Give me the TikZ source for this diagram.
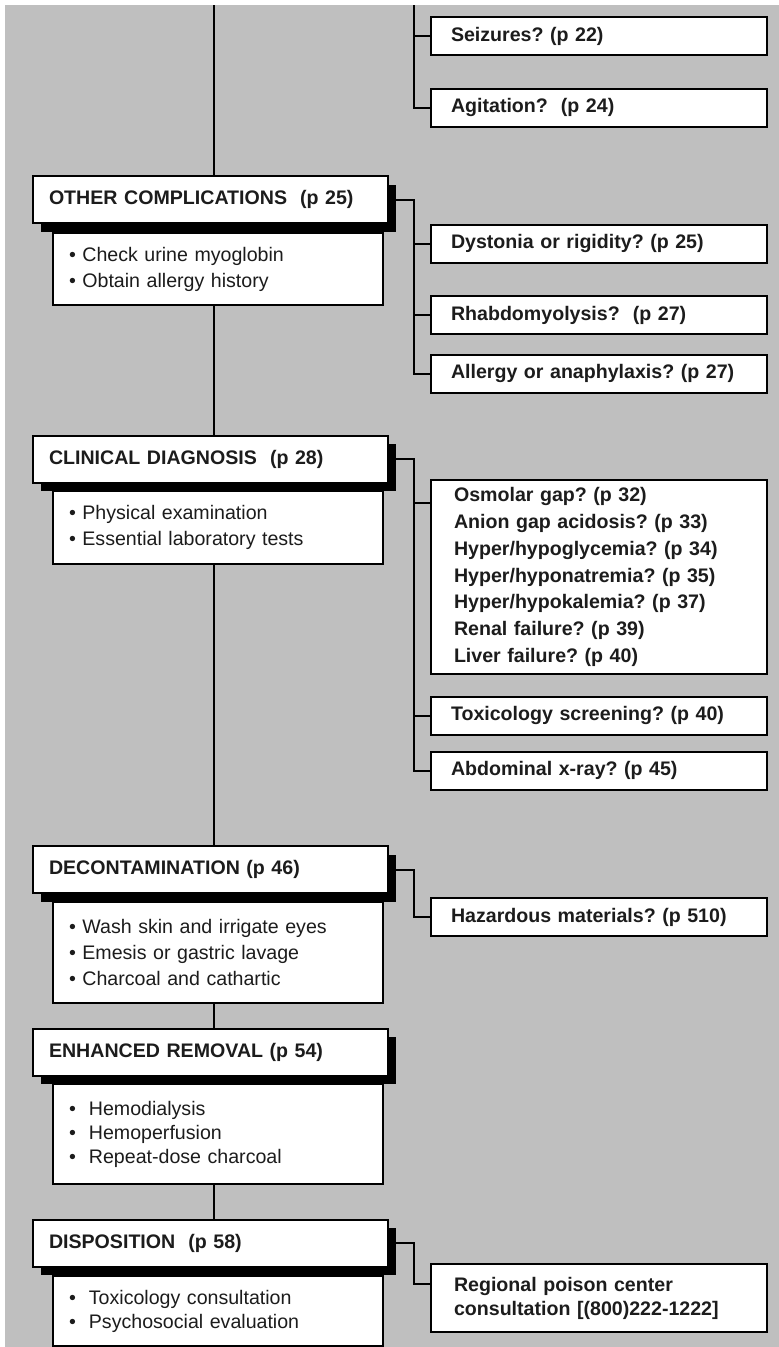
\documentclass[tikz,border=0pt]{standalone}
\usepackage{fontspec}
\setmainfont{Liberation Sans}
\usetikzlibrary{shadows}
\pgfdeclarelayer{bg}\pgfdeclarelayer{lines}
\pgfsetlayers{bg,lines,main}
\definecolor{bggray}{RGB}{191,191,191}
\definecolor{ink}{RGB}{28,28,28}
\frenchspacing
\begin{document}
\begin{tikzpicture}[x=1pt,y=-1pt,
 base/.style={draw=black, line width=2pt, fill=white, inner ysep=0pt, align=left, text=ink,
   font=\frenchspacing\fontsize{19.6}{26}\selectfont, anchor=west},
 hdr/.style={base, font=\frenchspacing\bfseries\fontsize{19.6}{26}\selectfont, inner xsep=16pt, text width=323pt,
   minimum height=47pt, drop shadow={shadow xshift=7.5pt, shadow yshift=-8.5pt, fill=black, opacity=1}},
 sub/.style={base, inner xsep=16pt, text width=298pt, anchor=north west},
 subtight/.style={sub, font=\frenchspacing\fontsize{19.6}{24}\selectfont},
 qbox/.style={base, font=\frenchspacing\bfseries\fontsize{19.6}{26}\selectfont, inner xsep=20pt, text width=296pt,
   minimum height=38pt},
 qmulti/.style={qbox, inner xsep=23pt, text width=290pt, anchor=north west},
 conn/.style={line width=2pt, draw=black}
]
\useasboundingbox (0,0) rectangle (779,1347);
\begin{pgfonlayer}{bg}
\fill[bggray] (5,5) rectangle (779,1347);
\end{pgfonlayer}

% right-hand question boxes
\node[qbox] (seiz) at (430,36) {Seizures? (p 22)};
\node[qbox] (agit) at (430,107.5) {Agitation?\ \ (p 24)};
\node[qbox] (dys) at (430,243.5) {Dystonia or rigidity? (p 25)};
\node[qbox] (rhab) at (430,315) {Rhabdomyolysis?\ \ (p 27)};
\node[qbox] (allg) at (430,373.5) {Allergy or anaphylaxis? (p 27)};
\node[qmulti, minimum height=194pt, font=\frenchspacing\bfseries\fontsize{19.6}{26.7}\selectfont] (osm) at (430,479)
  {Osmolar gap? (p 32)\\Anion gap acidosis? (p 33)\\Hyper/hypoglycemia? (p 34)\\Hyper/hyponatremia? (p 35)\\Hyper/hypokalemia? (p 37)\\Renal failure? (p 39)\\Liver failure? (p 40)};
\node[qbox] (toxs) at (430,715.5) {Toxicology screening? (p 40)};
\node[qbox] (abd) at (430,770.5) {Abdominal x-ray? (p 45)};
\node[qbox] (haz) at (430,917) {Hazardous materials? (p 510)};
\node[qmulti, minimum height=68pt, font=\frenchspacing\bfseries\fontsize{19.6}{24}\selectfont] (reg) at (430,1263)
  {Regional poison center\\consultation [(800)222-1222]};

% main column
\node[hdr] (oc) at (32,199.5) {OTHER COMPLICATIONS\ \ (p 25)};
\node[sub, minimum height=72pt] (ocs) at (52,232) {\textbullet\ Check urine myoglobin\\\textbullet\ Obtain allergy history};
\node[hdr] (cd) at (32,459) {CLINICAL DIAGNOSIS\ \ (p 28)};
\node[sub, minimum height=73pt] (cds) at (52,490) {\textbullet\ Physical examination\\\textbullet\ Essential laboratory tests};
\node[hdr] (dec) at (32,869.5) {DECONTAMINATION (p 46)};
\node[sub, minimum height=101pt] (decs) at (52,901) {\textbullet\ Wash skin and irrigate eyes\\\textbullet\ Emesis or gastric lavage\\\textbullet\ Charcoal and cathartic};
\node[hdr] (enh) at (32,1052) {ENHANCED REMOVAL (p 54)};
\node[subtight, minimum height=100pt] (enhs) at (52,1083) {\textbullet\ \ Hemodialysis\\\textbullet\ \ Hemoperfusion\\\textbullet\ \ Repeat-dose charcoal};
\node[hdr] (disp) at (32,1243) {DISPOSITION\ \ (p 58)};
\node[subtight, minimum height=70pt] (disps) at (52,1275) {\textbullet\ \ Toxicology consultation\\\textbullet\ \ Psychosocial evaluation};

\coordinate (spineL) at (214,5);
\coordinate (spineR) at (414,5);

\begin{pgfonlayer}{lines}
\draw[conn] (spineL) -- (spineL |- disp.north);
\draw[conn] (spineR) |- (agit.west);
\draw[conn] (spineR |- seiz.west) -- (seiz.west);
\draw[conn] (oc.east) -- (oc.east -| spineR) |- (allg.west);
\draw[conn] (spineR |- dys.west) -- (dys.west);
\draw[conn] (spineR |- rhab.west) -- (rhab.west);
\draw[conn] (cd.east) -- (cd.east -| spineR) |- (abd.west);
\draw[conn] ([yshift=-24pt]osm.north west -| spineR) -- ([yshift=-24pt]osm.north west);
\draw[conn] (spineR |- toxs.west) -- (toxs.west);
\draw[conn] (dec.east) -- (dec.east -| spineR) |- (haz.west);
\draw[conn] (disp.east) -- (disp.east -| spineR) |- ([yshift=-21pt]reg.north west);
\end{pgfonlayer}
\end{tikzpicture}
\end{document}
